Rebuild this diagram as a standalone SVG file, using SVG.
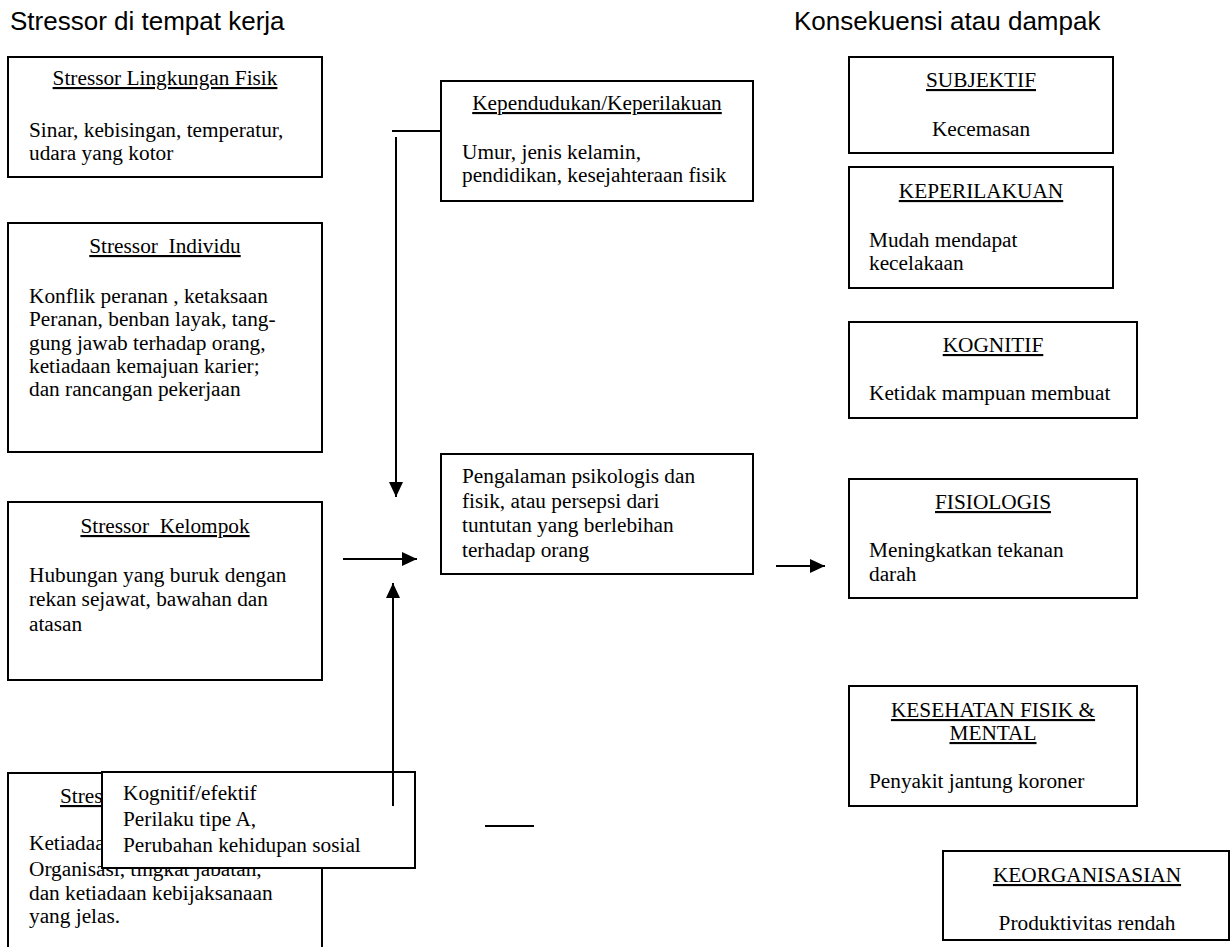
<svg xmlns="http://www.w3.org/2000/svg" width="1230" height="947" viewBox="0 0 1230 947">
<style>
.box{fill:#fff;stroke:#000;stroke-width:2}
.t{font-family:"Liberation Serif","Times New Roman",serif;font-size:21.3px;fill:#000}
.h{text-decoration:underline;text-anchor:middle}
.c{text-anchor:middle}
.hd{font-family:"Liberation Sans",Arial,sans-serif;font-size:26px;fill:#000}
.ln{stroke:#000;stroke-width:2;fill:none}
</style>
<defs>
<marker id="arr" markerUnits="userSpaceOnUse" markerWidth="16" markerHeight="15" refX="15" refY="7" orient="auto">
<path d="M0,0 L15,7 L0,14 z" fill="#000"/>
</marker>
</defs>
<text class="hd" x="10" y="30">Stressor di tempat kerja</text>
<text class="hd" x="794" y="30">Konsekuensi atau dampak</text>

<g id="n-fisik">
<rect class="box" x="8" y="57" width="314" height="120"/>
<text class="t h" x="165" y="85">Stressor Lingkungan Fisik</text>
<text class="t" x="29" y="137">Sinar, kebisingan, temperatur,</text>
<text class="t" x="29" y="160">udara yang kotor</text>
</g>
<g id="n-individu">
<rect class="box" x="8" y="223" width="314" height="229"/>
<text class="t h" x="165" y="253" xml:space="preserve">Stressor  Individu</text>
<text class="t" x="29" y="303">Konflik peranan , ketaksaan</text>
<text class="t" x="29" y="326">Peranan, benban layak, tang-</text>
<text class="t" x="29" y="350">gung jawab terhadap orang,</text>
<text class="t" x="29" y="373">ketiadaan kemajuan karier;</text>
<text class="t" x="29" y="396">dan rancangan pekerjaan</text>
</g>
<g id="n-kelompok">
<rect class="box" x="8" y="502" width="314" height="178"/>
<text class="t h" x="165" y="533" xml:space="preserve">Stressor  Kelompok</text>
<text class="t" x="29" y="582">Hubungan yang buruk dengan</text>
<text class="t" x="29" y="606">rekan sejawat, bawahan dan</text>
<text class="t" x="29" y="631">atasan</text>
</g>
<g id="n-organisasi">
<rect class="box" x="8" y="773" width="314" height="190"/>
<text class="t" x="60" y="803" text-decoration="underline">Stressor</text>
<text class="t" x="29" y="850">Ketiadaan</text>
<text class="t" x="29" y="876">Organisasi, tingkat jabatan,</text>
<text class="t" x="29" y="900">dan ketiadaan kebijaksanaan</text>
<text class="t" x="29" y="923">yang jelas.</text>
</g>
<g id="n-kognitif-efektif">
<rect class="box" x="102" y="772" width="313" height="96"/>
<text class="t" x="123" y="800">Kognitif/efektif</text>
<text class="t" x="123" y="826">Perilaku tipe A,</text>
<text class="t" x="123" y="852">Perubahan kehidupan sosial</text>
</g>
<g id="n-kependudukan">
<rect class="box" x="441" y="81" width="312" height="120"/>
<text class="t h" x="597" y="110">Kependudukan/Keperilakuan</text>
<text class="t" x="462" y="159">Umur, jenis kelamin,</text>
<text class="t" x="462" y="182">pendidikan, kesejahteraan fisik</text>
</g>
<g id="n-pengalaman">
<rect class="box" x="441" y="454" width="312" height="120"/>
<text class="t" x="462" y="483">Pengalaman psikologis dan</text>
<text class="t" x="462" y="508">fisik, atau persepsi dari</text>
<text class="t" x="462" y="532">tuntutan yang berlebihan</text>
<text class="t" x="462" y="557">terhadap orang</text>
</g>
<g id="n-subjektif">
<rect class="box" x="849" y="57" width="264" height="96"/>
<text class="t h" x="981" y="87">SUBJEKTIF</text>
<text class="t c" x="981" y="136">Kecemasan</text>
</g>
<g id="n-keperilakuan">
<rect class="box" x="849" y="167" width="264" height="121"/>
<text class="t h" x="981" y="198">KEPERILAKUAN</text>
<text class="t" x="869" y="247">Mudah mendapat</text>
<text class="t" x="869" y="270">kecelakaan</text>
</g>
<g id="n-kognitif">
<rect class="box" x="849" y="322" width="288" height="96"/>
<text class="t h" x="993" y="352">KOGNITIF</text>
<text class="t" x="869" y="400">Ketidak mampuan membuat</text>
</g>
<g id="n-fisiologis">
<rect class="box" x="849" y="479" width="288" height="119"/>
<text class="t h" x="993" y="509">FISIOLOGIS</text>
<text class="t" x="869" y="557">Meningkatkan tekanan</text>
<text class="t" x="869" y="581">darah</text>
</g>
<g id="n-kesehatan">
<rect class="box" x="849" y="686" width="288" height="120"/>
<text class="t h" x="993" y="717">KESEHATAN FISIK &amp;</text>
<text class="t h" x="993" y="740">MENTAL</text>
<text class="t" x="869" y="788">Penyakit jantung koroner</text>
</g>
<g id="n-keorganisasian">
<rect class="box" x="943" y="851" width="286" height="89"/>
<text class="t h" x="1087" y="882">KEORGANISASIAN</text>
<text class="t c" x="1087" y="930">Produktivitas rendah</text>
</g>

<g id="connectors">
<line class="ln" x1="392" y1="131" x2="441" y2="131"/>
<line class="ln" x1="396" y1="137" x2="396" y2="497" marker-end="url(#arr)"/>
<line class="ln" x1="393" y1="806" x2="393" y2="583" marker-end="url(#arr)"/>
<line class="ln" x1="343" y1="559" x2="417" y2="559" marker-end="url(#arr)"/>
<line class="ln" x1="776" y1="566" x2="825" y2="566" marker-end="url(#arr)"/>
<line class="ln" x1="485" y1="826" x2="534" y2="826"/>
</g>
</svg>
